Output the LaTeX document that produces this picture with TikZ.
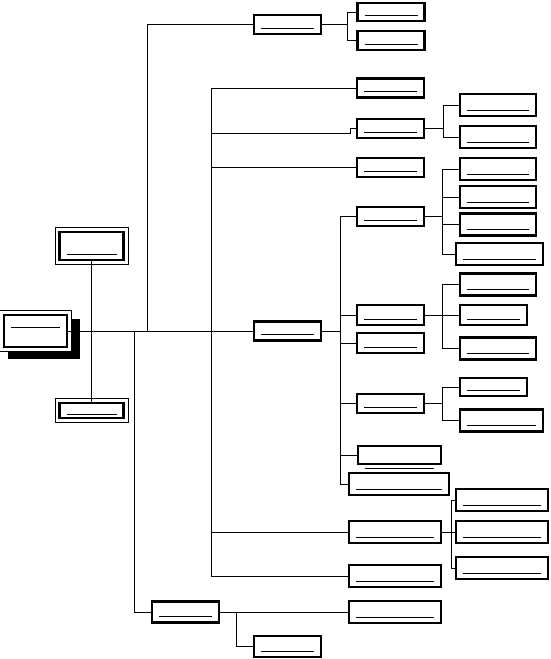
\documentclass[tikz,border=0pt]{standalone}
\usepackage{tikz}
\usetikzlibrary{backgrounds}

\def\ulh{6pt}

\begin{document}
\begin{tikzpicture}[
    x=1pt, y=-1pt,
    frame/.style={rectangle, draw, fill=white, line width=2.8pt, inner sep=0pt, minimum width=67pt, minimum height=19pt},
    box/.style={frame, path picture={\draw[uline] ([shift={(7pt,\ulh)}]path picture bounding box.south west) -- ([shift={(-7pt,\ulh)}]path picture bounding box.south east);}},
    tall/.style={box, minimum width=76pt, minimum height=22pt},
    long/.style={box, minimum width=92pt, minimum height=22pt},
    uline/.style={line width=0.8pt},
    link/.style={line width=0.9pt},
    rim/.style={line width=0.7pt, fill=white},
    raise/.code={\def\ulh{#1}}
]
    \useasboundingbox (0,0) rectangle (551,659);

    % left side
    \node[box, minimum width=63pt, minimum height=32pt, raise=20pt] (root) at (35.5,331) {};
    \node[box, minimum width=64pt, minimum height=28pt] (a1) at (91.5,246) {};
    \node[box, minimum width=64pt, minimum height=15pt, raise=4pt] (a2) at (91.5,410.5) {};

    % upper branch
    \node[box] (t) at (287.5,24.5) {};
    \node[box, minimum height=18pt] (t1) at (391,12) {};
    \node[box] (t2) at (391,40.5) {};

    % middle column
    \node[box] (b1) at (390.5,88) {};
    \node[box] (b2) at (390.5,128.5) {};
    \node[box] (b3) at (390.5,167.5) {};
    \node[box] (d) at (390.5,216.5) {};
    \node[box] (m) at (287.5,331) {};
    \node[box, minimum height=20pt] (e) at (390.5,315) {};
    \node[box, minimum height=20pt] (f) at (390.5,343) {};
    \node[box] (g) at (390.5,403.5) {};
    \node[frame, minimum width=83pt, minimum height=18pt] (h) at (399.5,455) {};
    \node[long, minimum width=100pt] (i) at (399,484) {};
    \node[long] (j) at (395,532) {};
    \node[long] (k) at (395,576) {};

    % right column
    \node[tall] (b21) at (498,105) {};
    \node[tall] (b22) at (498,137) {};
    \node[tall] (d1) at (498,169) {};
    \node[tall] (d2) at (498,197) {};
    \node[tall] (d3) at (498,224.5) {};
    \node[tall, minimum width=87pt] (d4) at (499.5,254) {};
    \node[tall] (e1) at (498,284.5) {};
    \node[box, minimum height=20pt] (e2) at (493.5,315) {};
    \node[tall] (e3) at (498,348.5) {};
    \node[box, minimum height=18pt] (g1) at (493.5,387) {};
    \node[tall, minimum width=83pt] (g2) at (501.5,420.5) {};
    \node[long] (j1) at (502,500) {};
    \node[long] (j2) at (502,532) {};
    \node[long] (j3) at (502,568) {};

    % lower branch
    \node[box, minimum height=21pt] (c) at (185.5,612) {};
    \node[long] (l) at (395,612) {};
    \node[box, minimum height=21pt] (n) at (287.5,646.5) {};

    \draw[uline] ([shift={(8pt,-3pt)}]h.south west) -- ([shift={(-8pt,-3pt)}]h.south east);

    % shadow and outer rims
    \begin{pgfonlayer}{background}
        \fill ([shift={(5pt,-5pt)}]root.north west) rectangle ([shift={(12pt,-11pt)}]root.south east);
        \filldraw[rim] ([shift={(-3pt,3pt)}]root.north west) rectangle ([shift={(3pt,-3pt)}]root.south east);
        \filldraw[rim] ([shift={(-3pt,3pt)}]a1.north west) rectangle ([shift={(3pt,-3pt)}]a1.south east);
        \filldraw[rim] ([shift={(-3pt,3pt)}]a2.north west) rectangle ([shift={(3pt,-3pt)}]a2.south east);
    \end{pgfonlayer}

    % junctions
    \coordinate (s2) at (134,331);
    \coordinate (s3) at (147,331);
    \coordinate (s4) at (211,331);
    \coordinate (tj) at (347,24.5);
    \coordinate (b2in) at (350,133);
    \coordinate (bj) at (443,128.5);
    \coordinate (mj) at (340,331);
    \coordinate (dj) at (442,216.5);
    \coordinate (ej) at (442,315);
    \coordinate (gj) at (442,403.5);
    \coordinate (jj) at (451,532);
    \coordinate (cj) at (236,612);

    \draw[link] (root) -- (m);
    \draw[link] (a1) -- (a2);
    \draw[link] (s2) |- (c);
    \draw[link] (s3) |- (t);
    \draw[link] (s4) |- (b1);
    \draw[link] (s4) |- (b2in) |- (b2);
    \draw[link] (s4) |- (b3);
    \draw[link] (s4) |- (j);
    \draw[link] (s4) |- (k);

    \draw[link] (t) -- (tj);
    \draw[link] (tj) |- (t1);
    \draw[link] (tj) |- (t2);

    \draw[link] (b2) -- (bj);
    \draw[link] (bj) |- (b21);
    \draw[link] (bj) |- (b22);

    \draw[link] (m) -- (mj);
    \draw[link] (mj) |- (d);
    \draw[link] (mj) |- (e);
    \draw[link] (mj) |- (f);
    \draw[link] (mj) |- (g);
    \draw[link] (mj) |- (h);
    \draw[link] (mj) |- (i);

    \draw[link] (d) -- (dj);
    \draw[link] (dj) |- (d1);
    \draw[link] (dj) |- (d2);
    \draw[link] (dj) |- (d3);
    \draw[link] (dj) |- (d4);

    \draw[link] (e) -- (ej);
    \draw[link] (ej) |- (e1);
    \draw[link] (ej) |- (e2);
    \draw[link] (ej) |- (e3);

    \draw[link] (g) -- (gj);
    \draw[link] (gj) |- (g1);
    \draw[link] (gj) |- (g2);

    \draw[link] (j) -- (jj);
    \draw[link] (jj) |- (j1);
    \draw[link] (jj) |- (j2);
    \draw[link] (jj) |- (j3);

    \draw[link] (c) -- (l);
    \draw[link] (cj) |- (n);
\end{tikzpicture}
\end{document}
